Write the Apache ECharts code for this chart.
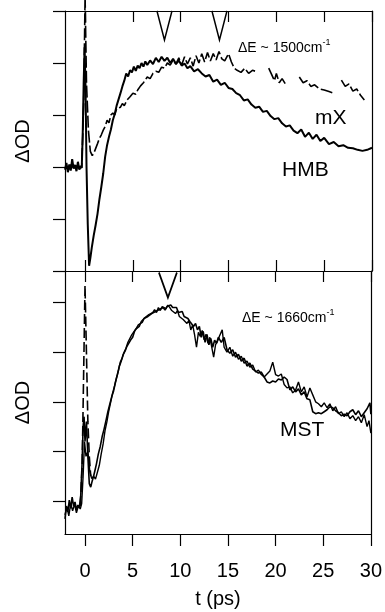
<!DOCTYPE html>
<html>
<head>
<meta charset="utf-8">
<script src="https://cdn.jsdelivr.net/npm/echarts@6/dist/echarts.min.js"></script>
<style>
  html, body { margin: 0; padding: 0; background: #fff; }
  #chart { width: 385px; height: 612px; }
</style>
</head>
<body>
<div id="chart"></div>
<script>
// shared time axis (ps)
const tTicks = [0, 5, 10, 15, 20, 25, 30]
const bottomTicks = [0, 1, 2, 3, 4]

// top panel: HMB (solid), [t, dOD]
const hmb = [
  [-2.1, 1.95], [-1.95, 2.08], [-1.8, 1.9], [-1.65, 2.05], [-1.5, 1.93], [-1.35, 2.15], [-1.2, 1.97],
  [-1.05, 2.04], [-0.9, 1.92], [-0.75, 2.1], [-0.6, 1.95], [-0.45, 2.02], [-0.35, 1.98], [-0.25, 2.6],
  [-0.15, 3.6], [-0.05, 4.3], [0.05, 3.5], [0.15, 2.0], [0.28, 0.9], [0.42, 0.1], [0.55, 0.25],
  [0.7, 0.45], [0.9, 0.68], [1.1, 0.88], [1.3, 1.1], [1.5, 1.38], [1.7, 1.62], [1.9, 1.88], [2.1, 2.2],
  [2.3, 2.42], [2.5, 2.58], [2.7, 2.72], [2.9, 2.9], [3.1, 3.02], [3.3, 3.18], [3.5, 3.3], [3.7, 3.42],
  [3.9, 3.55], [4.1, 3.66], [4.3, 3.8], [4.5, 3.74], [4.7, 3.86], [4.9, 3.82], [5.1, 3.93], [5.3, 3.85],
  [5.5, 3.95], [5.7, 3.9], [5.9, 4.0], [6.1, 3.93], [6.3, 4.03], [6.5, 3.96], [6.8, 4.05], [7.1, 3.98],
  [7.4, 4.1], [7.7, 4.02], [8.0, 4.12], [8.3, 4.04], [8.6, 4.1], [8.9, 4.0], [9.2, 4.08], [9.5, 3.98],
  [9.8, 4.05], [10.1, 3.95], [10.4, 3.99], [10.7, 3.9], [11.0, 3.94], [11.4, 3.84], [11.8, 3.88],
  [12.2, 3.8], [12.6, 3.74], [13.0, 3.77], [13.4, 3.64], [13.8, 3.68], [14.2, 3.58], [14.6, 3.62],
  [15.0, 3.52], [15.4, 3.5], [15.8, 3.42], [16.2, 3.38], [16.6, 3.28], [17.0, 3.3], [17.4, 3.2],
  [17.8, 3.14], [18.2, 3.16], [18.6, 3.06], [19.0, 3.08], [19.4, 2.98], [19.8, 2.92], [20.2, 2.94],
  [20.6, 2.84], [21.0, 2.78], [21.4, 2.8], [21.8, 2.7], [22.2, 2.65], [22.6, 2.72], [23.0, 2.58],
  [23.4, 2.66], [23.8, 2.54], [24.2, 2.62], [24.6, 2.5], [25.0, 2.56], [25.5, 2.44], [26.0, 2.48],
  [26.5, 2.4], [27.0, 2.42], [27.5, 2.37], [28.0, 2.36], [28.5, 2.33], [29.0, 2.31], [29.5, 2.33], [30.0, 2.37],
]

// top panel: mX (dashed), null = gap in trace
const mx = [
  [-2.1, 2.0], [-1.8, 1.96], [-1.5, 2.04], [-1.2, 1.98], [-0.9, 2.02], [-0.6, 1.97], [-0.35, 2.0],
  [-0.15, 3.2], [0.0, 5.3], [0.15, 3.6], [0.35, 2.7], [0.55, 2.3], [0.75, 2.22], [0.9, 2.26], [1.05, 2.33],
  [1.3, 2.45], [1.5, 2.55], [1.7, 2.62], [1.9, 2.71], [2.1, 2.78], [2.3, 2.9], [2.5, 2.85], [2.7, 3.0],
  [2.9, 3.04], [3.1, 3.0], [3.3, 3.12], [3.5, 3.1], [3.7, 3.15], [3.9, 3.22], [4.1, 3.18], [4.4, 3.29],
  [4.7, 3.35], [5.0, 3.42], [5.3, 3.4], [5.5, 3.48], [5.8, 3.56], [6.1, 3.62], [6.5, 3.73], [6.8, 3.7],
  [7.1, 3.8], [7.4, 3.84], [7.7, 3.82], [8.0, 3.92], [8.3, 3.9], [8.6, 4.0], [8.9, 3.96], [9.2, 4.06],
  [9.5, 3.98], [9.8, 4.1], [10.1, 3.96], [10.4, 4.12], [10.7, 3.98], [11.0, 4.1], [11.3, 3.94],
  [11.6, 4.14], [11.9, 4.0], [12.2, 4.18], [12.5, 4.02], [12.8, 4.2], [13.1, 4.04], [13.4, 4.18],
  [13.7, 4.06], [14.0, 4.22], [14.3, 4.08], [14.6, 4.04], [15.0, 4.18], [15.3, 4.02], [15.6, 3.9],
  [15.9, 3.86], [16.3, 3.82], [16.7, 3.9], [17.1, 3.8], [17.5, 3.86], [18.0, 3.83], [18.6, null],
  [19.2, 3.9], [19.5, 3.78], [19.8, 3.66], [20.0, 3.8], [20.3, 3.62], [20.6, 3.7], [21.0, 3.58],
  [21.6, null], [22.4, 3.73], [22.8, 3.62], [23.2, 3.66], [23.6, 3.55], [24.0, 3.58], [24.5, 3.5],
  [25.0, 3.48], [25.5, 3.45], [26.0, 3.42], [26.4, null], [26.8, 3.67], [27.2, 3.55], [27.6, 3.6],
  [28.0, 3.46], [28.4, 3.5], [28.8, 3.38], [29.2, 3.29],
]

// bottom panel: MST, two runs + dashed spike
const mst1 = [
  [-2.1, -0.36], [-1.95, -0.1], [-1.8, -0.22], [-1.65, 0.02], [-1.5, -0.15], [-1.35, 0.08], [-1.2, -0.1],
  [-1.05, -0.02], [-0.9, -0.18], [-0.75, -0.08], [-0.6, -0.14], [-0.45, 0.1], [-0.3, 0.8], [-0.2, 1.5],
  [-0.1, 1.7], [0.0, 1.2], [0.15, 1.6], [0.3, 0.9], [0.45, 0.35], [0.6, 0.28], [0.75, 0.4], [0.9, 0.5],
  [1.05, 0.62], [1.2, 0.75], [1.4, 0.95], [1.6, 1.1], [1.8, 1.3], [2.0, 1.45], [2.2, 1.62], [2.4, 1.8],
  [2.6, 1.95], [2.8, 2.1], [3.0, 2.22], [3.2, 2.4], [3.4, 2.55], [3.6, 2.72], [3.8, 2.82], [4.0, 2.95],
  [4.2, 3.02], [4.4, 3.12], [4.6, 3.15], [4.8, 3.25], [5.0, 3.3], [5.2, 3.42], [5.4, 3.45], [5.6, 3.55],
  [5.8, 3.58], [6.0, 3.6], [6.2, 3.68], [6.4, 3.64], [6.6, 3.72], [6.8, 3.7], [7.0, 3.78], [7.2, 3.75],
  [7.4, 3.82], [7.6, 3.8], [7.8, 3.86], [8.0, 3.82], [8.2, 3.9], [8.4, 3.85], [8.6, 3.92], [8.8, 3.88],
  [9.0, 3.95], [9.2, 3.9], [9.4, 3.86], [9.6, 3.9], [9.8, 3.8], [10.0, 3.78], [10.2, 3.82], [10.4, 3.72],
  [10.6, 3.76], [10.8, 3.68], [11.0, 3.62], [11.2, 3.66], [11.4, 3.52], [11.6, 3.58], [11.8, 3.45],
  [12.0, 3.52], [12.2, 3.3], [12.4, 3.42], [12.6, 3.2], [12.8, 3.36], [13.0, 3.15], [13.2, 3.28],
  [13.4, 3.1], [13.6, 3.24], [13.8, 3.18], [14.0, 3.3], [14.3, 3.2], [14.6, 3.3], [14.9, 3.05],
  [15.2, 2.98], [15.5, 3.05], [15.8, 2.9], [16.1, 2.96], [16.4, 2.82], [16.7, 2.88], [17.0, 2.72],
  [17.3, 2.78], [17.6, 2.66], [17.9, 2.62], [18.2, 2.58], [18.5, 2.6], [18.8, 2.5], [19.1, 2.4],
  [19.4, 2.38], [19.7, 2.42], [20.0, 2.4], [20.3, 2.46], [20.6, 2.44], [20.9, 2.5], [21.2, 2.45],
  [21.5, 2.24], [21.8, 2.3], [22.1, 2.2], [22.4, 2.26], [22.7, 2.14], [23.0, 2.2], [23.3, 2.06],
  [23.6, 2.04], [23.9, 1.8], [24.2, 1.76], [24.5, 1.78], [24.8, 1.76], [25.1, 1.8], [25.4, 1.84],
  [25.7, 1.9], [26.0, 1.88], [26.3, 1.82], [26.6, 1.78], [26.9, 1.72], [27.2, 1.75], [27.5, 1.72],
  [27.8, 1.8], [28.1, 1.84], [28.4, 1.74], [28.7, 1.82], [29.0, 1.7], [29.3, 1.78], [29.6, 1.86],
  [29.9, 1.98], [30.0, 1.75],
]

const mst2 = [
  [-2.1, -0.28], [-1.9, -0.12], [-1.7, -0.3], [-1.5, -0.05], [-1.3, -0.2], [-1.1, -0.06], [-0.9, -0.24],
  [-0.7, -0.1], [-0.5, -0.16], [-0.35, -0.05], [-0.2, 0.5], [-0.05, 1.2], [0.1, 0.9], [0.3, 1.0],
  [0.5, 0.6], [0.7, 0.45], [0.9, 0.5], [1.1, 0.44], [1.3, 0.58], [1.5, 0.72], [1.7, 0.95], [1.9, 1.15],
  [2.1, 1.42], [2.3, 1.6], [2.5, 1.82], [2.7, 2.0], [2.9, 2.18], [3.1, 2.32], [3.3, 2.48], [3.5, 2.62],
  [3.7, 2.8], [3.9, 2.88], [4.1, 3.0], [4.3, 3.08], [4.5, 3.2], [4.7, 3.22], [4.9, 3.35], [5.1, 3.38],
  [5.3, 3.46], [5.5, 3.5], [5.7, 3.52], [5.9, 3.62], [6.1, 3.58], [6.3, 3.7], [6.5, 3.68], [6.7, 3.76],
  [6.9, 3.74], [7.1, 3.8], [7.3, 3.86], [7.5, 3.8], [7.7, 3.9], [7.9, 3.84], [8.1, 3.92], [8.3, 3.96],
  [8.5, 3.88], [8.7, 3.95], [8.9, 3.9], [9.1, 3.84], [9.3, 3.88], [9.5, 3.78], [9.7, 3.84], [9.9, 3.72],
  [10.1, 3.76], [10.3, 3.66], [10.5, 3.7], [10.7, 3.58], [10.9, 3.64], [11.1, 3.45], [11.3, 3.55],
  [11.5, 3.35], [11.7, 3.1], [11.9, 3.4], [12.1, 3.32], [12.3, 3.44], [12.5, 3.25], [12.7, 3.36],
  [12.9, 3.18], [13.1, 3.3], [13.3, 3.1], [13.5, 2.9], [13.7, 3.15], [13.9, 3.22], [14.1, 3.32],
  [14.4, 3.45], [14.6, 3.1], [14.9, 3.0], [15.2, 3.1], [15.5, 2.92], [15.8, 3.0], [16.1, 2.86],
  [16.4, 2.92], [16.7, 2.78], [17.0, 2.82], [17.3, 2.7], [17.6, 2.74], [17.9, 2.6], [18.2, 2.64],
  [18.5, 2.55], [18.8, 2.5], [19.1, 2.56], [19.4, 2.62], [19.7, 2.8], [20.0, 2.55], [20.3, 2.52],
  [20.6, 2.56], [20.9, 2.35], [21.2, 2.28], [21.5, 2.3], [21.8, 2.18], [22.1, 2.24], [22.4, 2.4],
  [22.7, 2.2], [23.0, 2.3], [23.3, 2.1], [23.6, 2.28], [23.9, 2.14], [24.2, 2.0], [24.5, 1.96],
  [24.8, 1.9], [25.1, 1.98], [25.4, 1.88], [25.7, 1.96], [26.0, 1.82], [26.3, 1.9], [26.6, 1.76],
  [26.9, 1.8], [27.2, 1.7], [27.5, 1.78], [27.8, 1.66], [28.1, 1.72], [28.4, 1.62], [28.7, 1.7],
  [29.0, 1.58], [29.3, 1.74], [29.6, 1.5], [29.8, 1.62], [30.0, 1.37],
]

const mstSpike = [
  [-0.5, -0.1], [-0.3, 0.7], [-0.15, 2.5], [0.0, 4.35], [0.15, 3.0], [0.3, 1.6], [0.45, 0.9], [0.6, 0.5],
]

// arrow marks (t position)
const topArrows = [8.3, 14.05]
const bottomArrows = [8.7]

const FONT = '"Liberation Sans", Arial, Helvetica, sans-serif'
const yTopMin = 0
const yTopMax = 5
const yBotMin = -0.665
const yBotMax = 4.637

const chart = echarts.init(document.getElementById('chart'), null, { renderer: 'canvas' })

function gaps(arr) {
  return arr.map(p => [p[0], p[1] === null ? '-' : p[1]])
}

function xAx(grid, pos, inside, len, labels) {
  return {
    type: 'value',
    gridIndex: grid,
    position: pos,
    min: -2.1,
    max: 30,
    axisLine: { show: true, onZero: false, lineStyle: { color: '#000', width: 1.2 } },
    axisTick: { show: true, inside: inside, length: len, customValues: tTicks, lineStyle: { color: '#000', width: 1.2 } },
    axisLabel: labels
      ? { show: true, customValues: tTicks, color: '#000', fontSize: 20, fontFamily: FONT, margin: 27 }
      : { show: false },
    splitLine: { show: false },
  }
}

function yAx(grid, pos, min, max, ticks, name) {
  return {
    type: 'value',
    gridIndex: grid,
    position: pos,
    min: min,
    max: max,
    name: name,
    nameLocation: 'middle',
    nameGap: 32,
    nameTextStyle: { color: '#000', fontSize: 20, fontFamily: FONT },
    axisLine: { show: true, onZero: false, lineStyle: { color: '#000', width: 1.2 } },
    axisTick: ticks
      ? { show: true, length: 12, customValues: ticks, lineStyle: { color: '#000', width: 1.2 } }
      : { show: false },
    axisLabel: { show: false },
    splitLine: { show: false },
  }
}

const vArrow = 'path://M0,0L10,40L20,0'

const option = {
  animation: false,
  backgroundColor: '#fff',
  grid: [
    { left: 65, right: 13, top: 11, height: 260 },
    { left: 65, right: 13, top: 271, height: 263 },
  ],
  xAxis: [
    xAx(0, 'bottom', true, 11, false),
    xAx(0, 'top', true, 11, false),
    xAx(1, 'top', true, 11, false),
    Object.assign(xAx(1, 'bottom', false, 12, true), {
      name: 't (ps)',
      nameLocation: 'middle',
      nameGap: 55,
      nameTextStyle: { color: '#000', fontSize: 20, fontFamily: FONT },
    }),
  ],
  yAxis: [
    yAx(0, 'left', yTopMin, yTopMax, [0, 1, 2, 3, 4, 5], 'ΔOD'),
    yAx(0, 'right', yTopMin, yTopMax, null, ''),
    yAx(1, 'left', yBotMin, yBotMax, bottomTicks, 'ΔOD'),
    yAx(1, 'right', yBotMin, yBotMax, null, ''),
  ],
  series: [
    {
      name: 'HMB',
      type: 'line',
      xAxisIndex: 0,
      yAxisIndex: 0,
      data: hmb,
      showSymbol: false,
      clip: false,
      lineStyle: { color: '#000', width: 2 },
      markPoint: {
        symbol: vArrow,
        symbolSize: [15, 29],
        symbolOffset: [0, 14.5],
        itemStyle: { color: 'rgba(0,0,0,0)', borderColor: '#000', borderWidth: 2 },
        label: { show: false },
        data: topArrows.map(t => ({ coord: [t, yTopMax] })),
      },
    },
    {
      name: 'mX',
      type: 'line',
      xAxisIndex: 0,
      yAxisIndex: 0,
      data: gaps(mx),
      showSymbol: false,
      clip: false,
      connectNulls: false,
      lineStyle: { color: '#000', width: 1.6, type: [12, 3] },
    },
    {
      name: 'MST a',
      type: 'line',
      xAxisIndex: 3,
      yAxisIndex: 2,
      data: mst1,
      showSymbol: false,
      clip: false,
      lineStyle: { color: '#000', width: 1.6 },
      markPoint: {
        symbol: vArrow,
        symbolSize: [18, 25],
        symbolOffset: [0, 14],
        itemStyle: { color: 'rgba(0,0,0,0)', borderColor: '#000', borderWidth: 2 },
        label: { show: false },
        data: bottomArrows.map(t => ({ coord: [t, yBotMax] })),
      },
    },
    {
      name: 'MST b',
      type: 'line',
      xAxisIndex: 3,
      yAxisIndex: 2,
      data: mst2,
      showSymbol: false,
      clip: false,
      lineStyle: { color: '#000', width: 1.4 },
    },
    {
      name: 'MST spike',
      type: 'line',
      xAxisIndex: 3,
      yAxisIndex: 2,
      data: mstSpike,
      showSymbol: false,
      clip: false,
      lineStyle: { color: '#000', width: 1.6, type: [10, 4] },
    },
  ],
  graphic: [
    {
      type: 'text', x: 238, y: 48,
      style: {
        text: '{a|ΔE ~ 1500cm}{s|-1}',
        rich: {
          a: { fontSize: 14, fontFamily: FONT, color: '#000', lineHeight: 20 },
          s: { fontSize: 9, fontFamily: FONT, color: '#000', verticalAlign: 'top', lineHeight: 9 },
        },
        textAlign: 'left', textVerticalAlign: 'middle', align: 'left', verticalAlign: 'middle',
      },
    },
    {
      type: 'text', x: 242, y: 318,
      style: {
        text: '{a|ΔE ~ 1660cm}{s|-1}',
        rich: {
          a: { fontSize: 14, fontFamily: FONT, color: '#000', lineHeight: 20 },
          s: { fontSize: 9, fontFamily: FONT, color: '#000', verticalAlign: 'top', lineHeight: 9 },
        },
        textAlign: 'left', textVerticalAlign: 'middle', align: 'left', verticalAlign: 'middle',
      },
    },
    {
      type: 'text', x: 315, y: 118,
      style: { text: 'mX', font: '21px ' + FONT, fill: '#000', textAlign: 'left', textVerticalAlign: 'middle', align: 'left', verticalAlign: 'middle' },
    },
    {
      type: 'text', x: 282, y: 170,
      style: { text: 'HMB', font: '21px ' + FONT, fill: '#000', textAlign: 'left', textVerticalAlign: 'middle', align: 'left', verticalAlign: 'middle' },
    },
    {
      type: 'text', x: 280, y: 430,
      style: { text: 'MST', font: '21px ' + FONT, fill: '#000', textAlign: 'left', textVerticalAlign: 'middle', align: 'left', verticalAlign: 'middle' },
    },
  ],
}

chart.setOption(option)
</script>
</body>
</html>
